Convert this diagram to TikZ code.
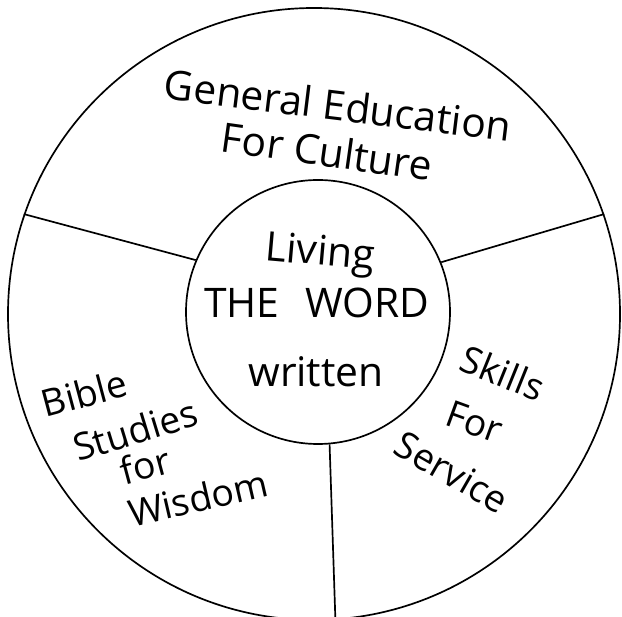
\documentclass[tikz,border=0pt]{standalone}
\usepackage{fontspec}
\setmainfont{Open Sans}
\usepackage{tikz}
\usetikzlibrary{positioning}

\begin{document}
\begin{tikzpicture}[
  ring/.style={draw,circle,line width=2.4pt,inner sep=0pt},
  spoke/.style={line width=2.4pt},
  hand/.style={font=\fontsize{58}{64}\selectfont,inner sep=0pt},
  side/.style={font=\fontsize{53}{60}\selectfont,inner sep=0pt}]
\useasboundingbox (0,0) rectangle (31.1,30.8);
% the two rings
\node[ring,minimum size=30.6cm] (outer) at (15.7,15.1) {};
\node[ring,minimum size=13.2cm] (word) at (15.9,15.2) {};
% spokes between the rings
\draw[spoke] (word.157) -- (outer.161);
\draw[spoke] (word.22) -- (outer.19);
\draw[spoke] (word.275) -- (outer.274);
% centre
\node[hand,rotate=-5] (living) at (16.0,18.05) {Living};
\node[hand] (theword) at (15.85,15.65) {THE\hspace{1.3cm}WORD};
\node[hand] (written) at (15.8,12.2) {written};
% top sector
\node[hand,rotate=-7] (gened) at (16.9,25.55) {General Education};
\node[hand,rotate=-8] (culture) at (16.35,23.25) {For Culture};
% left sector
\node[side,rotate=15] (bible) at (4.2,11.15) {Bible};
\node[side,rotate=17] (studies) at (6.75,9.3) {Studies};
\node[side,rotate=15] (forwis) at (7.25,7.55) {for};
\node[side,rotate=13] (wisdom) at (9.9,5.9) {Wisdom};
% right sector
\node[side,rotate=-22] (skills) at (25.15,12.15) {Skills};
\node[side,rotate=-20] (forser) at (23.75,9.7) {For};
\node[side,rotate=-30] (service) at (22.6,7.2) {Service};
\end{tikzpicture}
\end{document}
